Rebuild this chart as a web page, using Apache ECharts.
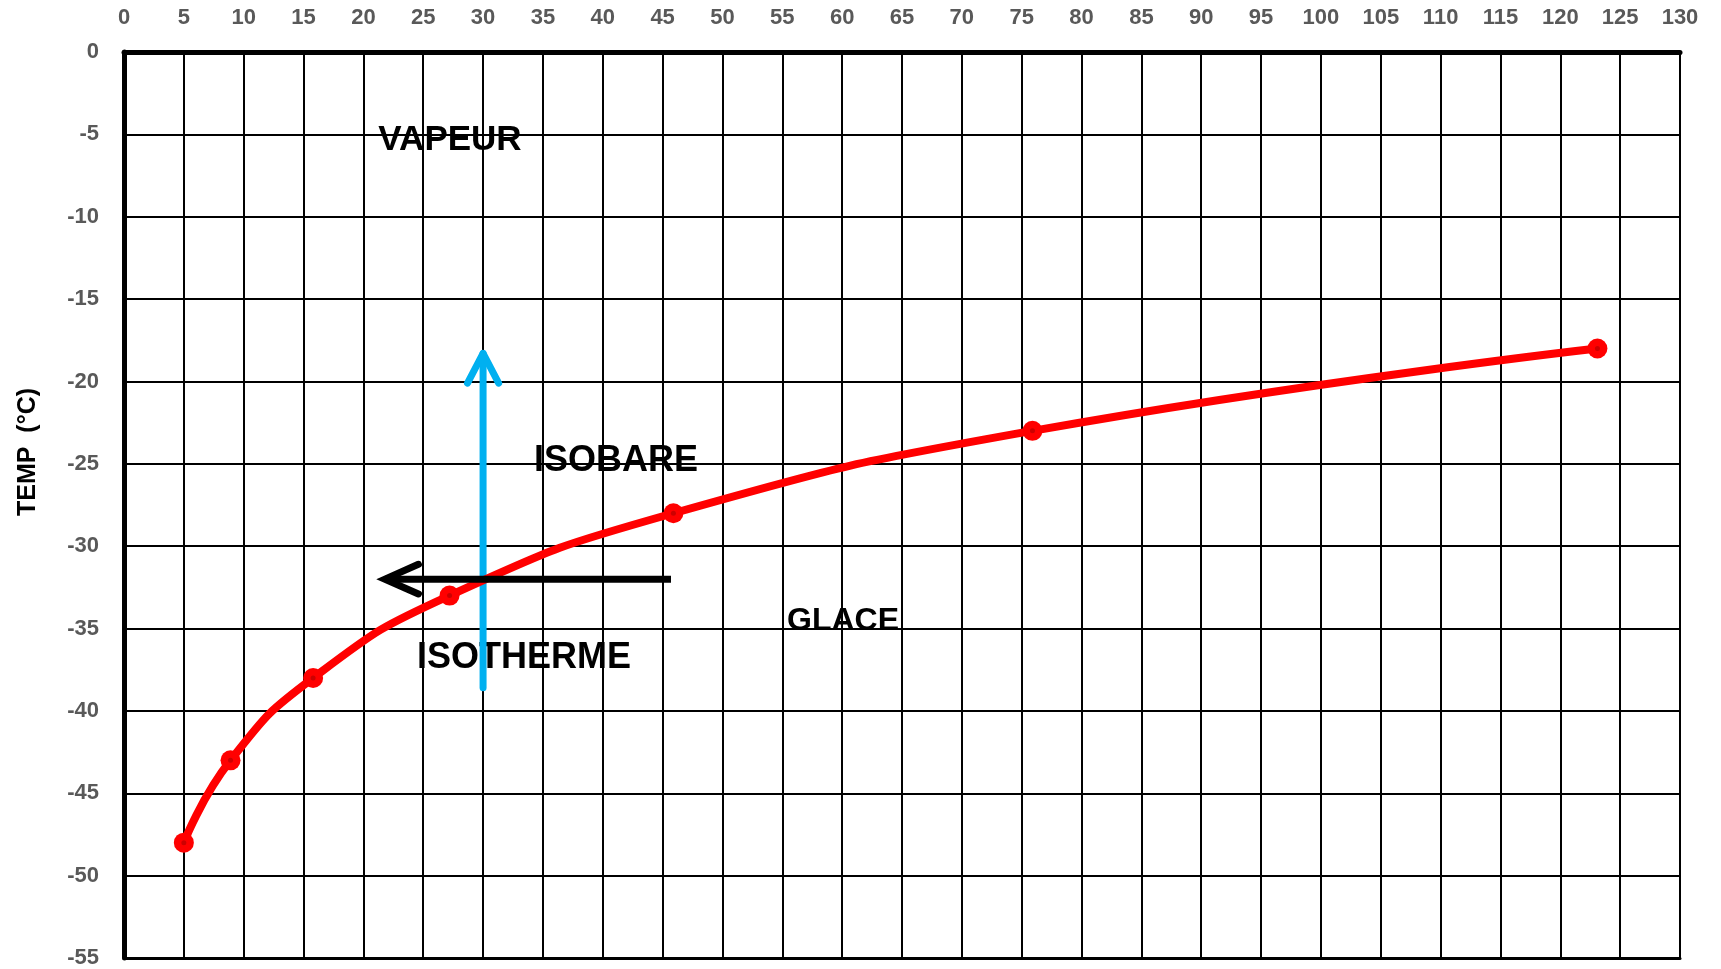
<!DOCTYPE html>
<html>
<head>
<meta charset="utf-8">
<script src="https://cdn.jsdelivr.net/npm/echarts@6/dist/echarts.min.js"></script>
<style>
html,body{margin:0;padding:0;background:#fff;}
#chart{width:1721px;height:969px;}
</style>
</head>
<body>
<div id="chart"></div>
<script>
// ---- data ----
const pressure = [5, 8.9, 15.8, 27.2, 45.9, 75.9, 123.1];
const temperature = [-48, -43, -38, -33, -28, -23, -18];
const xTicks = {min: 0, max: 130, interval: 5};
const yTicks = {min: -55, max: 0, interval: 5};
const yAxisTitle = 'TEMP  (°C)';
// annotation arrows in data units
const isobareLine = [[30, -38.6], [30, -18.3]];
const isobareHead = [[28.7, -20.1], [30, -18.3], [31.3, -20.1]];
const isothermeLine = [[45.7, -32], [21.8, -32]];
const isothermeHead = [[24.6, -31.1], [21.8, -32], [24.6, -32.9]];
const zoneLabels = ['VAPEUR', 'ISOBARE', 'ISOTHERME', 'GLACE'];

const curve = pressure.map((p, i) => [p, temperature[i]]);

const chart = echarts.init(document.getElementById('chart'), null, {renderer: 'canvas'});
const tickFont = {fontFamily: 'Liberation Sans', fontWeight: 'bold', fontSize: 22, color: '#595959'};
const bigFont = {fontFamily: 'Liberation Sans', fontWeight: 'bold', fill: '#000'};

chart.setOption({
  backgroundColor: '#ffffff',
  animation: false,
  grid: {left: 124, right: 41, top: 52, bottom: 11, containLabel: false},
  xAxis: [{
    type: 'value', position: 'top',
    min: xTicks.min, max: xTicks.max, interval: xTicks.interval,
    axisLine: {show: true, onZero: false, lineStyle: {color: '#000', width: 5}},
    axisTick: {show: false},
    axisLabel: Object.assign({margin: 23}, tickFont),
    splitLine: {show: true, lineStyle: {color: '#000', width: 2}}
  }, {
    type: 'value', position: 'bottom',
    min: xTicks.min, max: xTicks.max, interval: xTicks.interval,
    axisLine: {show: true, onZero: false, lineStyle: {color: '#000', width: 3}},
    axisTick: {show: false}, axisLabel: {show: false}, splitLine: {show: false}
  }],
  yAxis: {
    type: 'value',
    min: yTicks.min, max: yTicks.max, interval: yTicks.interval,
    axisLine: {show: true, onZero: false, lineStyle: {color: '#000', width: 5}},
    axisTick: {show: false},
    axisLabel: Object.assign({margin: 25}, tickFont),
    splitLine: {show: true, lineStyle: {color: '#000', width: 2}}
  },
  graphic: [
    {type: 'text', x: 28, y: 452, rotation: Math.PI / 2,
     style: Object.assign({text: yAxisTitle, fontSize: 25, textAlign: 'center', textVerticalAlign: 'middle'}, bigFont)},
    {type: 'text', x: 450, y: 140, z: 1,
     style: Object.assign({text: zoneLabels[0], fontSize: 35, textAlign: 'center', textVerticalAlign: 'middle'}, bigFont)},
    {type: 'text', x: 616, y: 461, z: 1,
     style: Object.assign({text: zoneLabels[1], fontSize: 36, textAlign: 'center', textVerticalAlign: 'middle'}, bigFont)},
    {type: 'text', x: 524, y: 658, z: 1,
     style: Object.assign({text: zoneLabels[2], fontSize: 36, textAlign: 'center', textVerticalAlign: 'middle'}, bigFont)},
    {type: 'text', x: 843, y: 621, z: 1,
     style: Object.assign({text: zoneLabels[3], fontSize: 32, textAlign: 'center', textVerticalAlign: 'middle'}, bigFont)}
  ],
  series: [
    {type: 'line', data: isobareLine, symbol: 'none', z: 3,
     lineStyle: {color: '#00B0F0', width: 7, cap: 'round'}},
    {type: 'line', data: isobareHead, symbol: 'none', z: 3,
     lineStyle: {color: '#00B0F0', width: 7, cap: 'round', join: 'round'}},
    {type: 'line', data: curve, smooth: true, symbol: 'circle', symbolSize: 20, z: 4,
     itemStyle: {color: '#FF0000'},
     lineStyle: {color: '#FF0000', width: 8}},
    {type: 'scatter', data: curve, symbol: 'circle', symbolSize: 5, z: 5,
     itemStyle: {color: '#C00000'}},
    {type: 'line', data: isothermeLine, symbol: 'none', z: 5,
     lineStyle: {color: '#000', width: 7, cap: 'butt'}},
    {type: 'line', data: isothermeHead, symbol: 'none', z: 5,
     lineStyle: {color: '#000', width: 7, cap: 'round', join: 'miter'}}
  ]
});
</script>
</body>
</html>
